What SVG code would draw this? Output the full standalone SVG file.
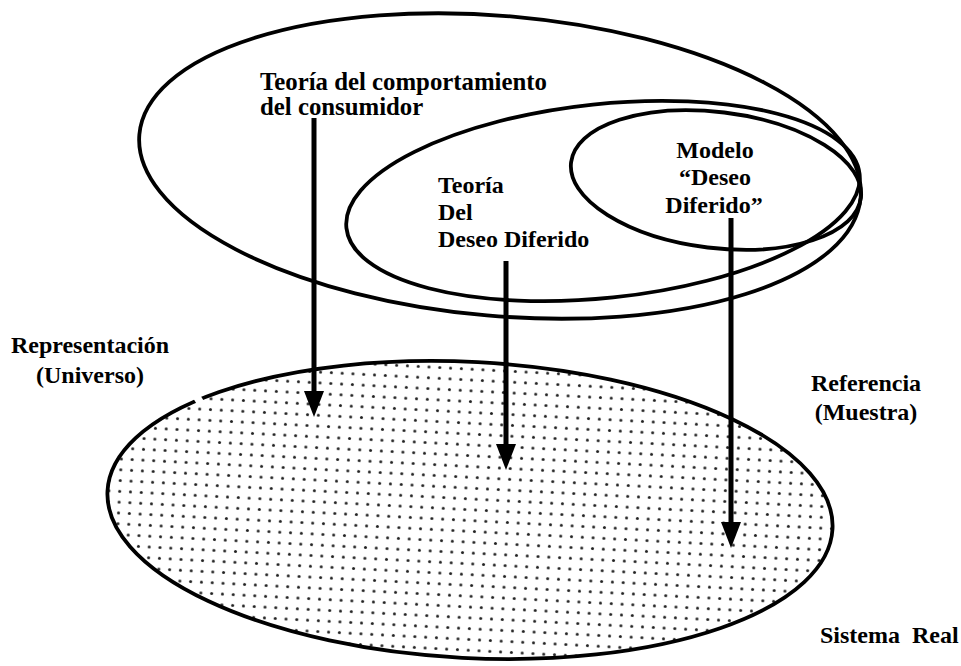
<svg xmlns="http://www.w3.org/2000/svg" width="961" height="666" viewBox="0 0 961 666">
<style>
.lbl{font-family:"Liberation Serif","Times New Roman",serif;font-weight:bold;font-size:24px;fill:#000}
.ell{fill:none;stroke:#000;stroke-width:3.8}
.arr{stroke:#000;stroke-width:5;fill:none}
</style>
<defs>
<pattern id="dots" patternUnits="userSpaceOnUse" x="394.6" y="417.9" width="10.8" height="10.8">
<circle cx="5.4" cy="5.4" r="1.5" fill="#222"/>
</pattern>
<marker id="ah" viewBox="0 0 26 20" refX="1" refY="10" markerUnits="userSpaceOnUse" markerWidth="26" markerHeight="20" orient="auto">
<path d="M0,0 L26,10 L0,20 Z" fill="#000"/>
</marker>
</defs>
<rect width="961" height="666" fill="#fff"/>
<g id="sistema-real">
<ellipse cx="470" cy="510" rx="363" ry="148" transform="rotate(3 470 510)" fill="url(#dots)" stroke="#000" stroke-width="3.8"/>
<line x1="195.5" y1="402" x2="202" y2="398" stroke="#fff" stroke-width="7"/>
</g>
<g id="teoria-comportamiento">
<ellipse class="ell" cx="500" cy="166" rx="362" ry="150" transform="rotate(5 500 166)"/>
<text class="lbl" x="260" y="90" style="font-size:24.8px">Teoría del comportamiento</text>
<text class="lbl" x="260" y="115" style="font-size:24.8px">del consumidor</text>
</g>
<g id="teoria-deseo">
<ellipse class="ell" cx="603" cy="201" rx="258" ry="97" transform="rotate(-6 603 201)"/>
<text class="lbl" x="438" y="193">Teoría</text>
<text class="lbl" x="438" y="220">Del</text>
<text class="lbl" x="438" y="247">Deseo Diferido</text>
</g>
<g id="modelo">
<ellipse class="ell" cx="716" cy="180" rx="146" ry="68" transform="rotate(7 716 180)"/>
<text class="lbl" x="715" y="158" text-anchor="middle">Modelo</text>
<text class="lbl" x="715" y="185" text-anchor="middle">“Deseo</text>
<text class="lbl" x="714" y="213" text-anchor="middle">Diferido”</text>
</g>
<g id="representacion">
<text class="lbl" x="90" y="353" text-anchor="middle">Representación</text>
<text class="lbl" x="90" y="383" text-anchor="middle">(Universo)</text>
</g>
<g id="referencia">
<text class="lbl" x="866" y="391" text-anchor="middle">Referencia</text>
<text class="lbl" x="866" y="420" text-anchor="middle">(Muestra)</text>
</g>
<g id="sistema-label">
<text class="lbl" x="820" y="643" xml:space="preserve">Sistema  Real</text>
</g>
<g id="connectors">
<line class="arr" x1="314" y1="118" x2="314" y2="392" marker-end="url(#ah)"/>
<line class="arr" x1="506" y1="261" x2="506" y2="445" marker-end="url(#ah)"/>
<line class="arr" x1="731" y1="218" x2="731" y2="523" marker-end="url(#ah)"/>
</g>
</svg>
